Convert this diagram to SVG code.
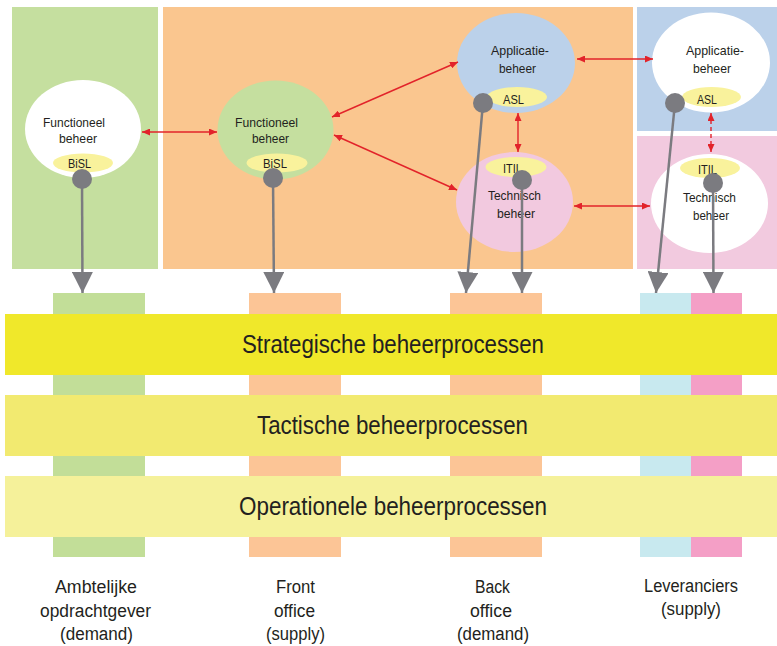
<svg xmlns="http://www.w3.org/2000/svg" width="777" height="646" viewBox="0 0 777 646">
<defs>
<style>
text{font-family:"Liberation Sans",Arial,sans-serif;fill:#231f20;text-anchor:middle}
.n{font-size:13.5px}
.s{font-size:13.5px}
.b{font-size:25px}
.l{font-size:18px}
.red{stroke:#e2232a;stroke-width:1.4;fill:none;marker-start:url(#ra);marker-end:url(#ra)}
.gl{stroke:#7b7b80;stroke-width:2.5;fill:none;marker-end:url(#ga)}
.gc{fill:#7b7b80}
.y{fill:#f9f29c}
</style>
<marker id="ra" viewBox="0 0 8 7" refX="8" refY="3.5" markerWidth="8" markerHeight="7" markerUnits="userSpaceOnUse" orient="auto-start-reverse"><path d="M0,0L8,3.5L0,7z" fill="#e2232a"/></marker>
<marker id="ga" viewBox="0 0 21 21" refX="21" refY="10.5" markerWidth="21" markerHeight="21" markerUnits="userSpaceOnUse" orient="auto"><path d="M0,0L21,10.5L0,21z" fill="#7b7b80"/></marker>
</defs>
<rect width="777" height="646" fill="#fff"/>
<g id="panels">
<rect x="12" y="7" width="146" height="262" fill="#c5df9f"/>
<rect x="163" y="7" width="470" height="262" fill="#fac68f"/>
<rect x="637" y="7" width="140" height="124" fill="#bbd1ea"/>
<rect x="637" y="136" width="140" height="133" fill="#f2cadf"/>
</g>
<g id="columns">
<rect x="53" y="293" width="92" height="264" fill="#c2de98"/>
<rect x="249" y="293" width="92" height="264" fill="#fcc596"/>
<rect x="450" y="293" width="92" height="264" fill="#fcc596"/>
<rect x="640" y="293" width="51" height="264" fill="#c8e9ef"/>
<rect x="691" y="293" width="51" height="264" fill="#f49fc6"/>
</g>
<g id="band-strategisch">
<rect x="5" y="314" width="772" height="61" fill="#f0e82a"/>
<text class="b" x="393" y="353" textLength="302" lengthAdjust="spacingAndGlyphs">Strategische beheerprocessen</text>
</g>
<g id="band-tactisch">
<rect x="5" y="395" width="772" height="61" fill="#f2ea70"/>
<text class="b" x="392.5" y="434" textLength="271" lengthAdjust="spacingAndGlyphs">Tactische beheerprocessen</text>
</g>
<g id="band-operationeel">
<rect x="5" y="476" width="772" height="61" fill="#f5f19a"/>
<text class="b" x="393" y="515" textLength="308" lengthAdjust="spacingAndGlyphs">Operationele beheerprocessen</text>
</g>
<g id="node-fb-demand">
<ellipse cx="83" cy="129" rx="58" ry="49" fill="#fff"/>
<ellipse class="y" cx="83" cy="163" rx="30" ry="9.5"/>
<text class="n" x="74" y="127" textLength="62" lengthAdjust="spacingAndGlyphs">Functioneel</text>
<text class="n" x="78" y="143" textLength="38" lengthAdjust="spacingAndGlyphs">beheer</text>
<text class="s" x="79.5" y="168" textLength="23" lengthAdjust="spacingAndGlyphs">BiSL</text>
</g>
<g id="node-fb-supply">
<ellipse cx="275.5" cy="130" rx="58" ry="49.5" fill="#c5df9f"/>
<ellipse class="y" cx="277" cy="163" rx="30.5" ry="9.5"/>
<text class="n" x="266.5" y="127" textLength="63" lengthAdjust="spacingAndGlyphs">Functioneel</text>
<text class="n" x="270.5" y="143" textLength="37" lengthAdjust="spacingAndGlyphs">beheer</text>
<text class="s" x="275" y="168" textLength="24" lengthAdjust="spacingAndGlyphs">BiSL</text>
</g>
<g id="node-ab-backoffice">
<ellipse cx="516" cy="63" rx="59" ry="50" fill="#bbd1ea"/>
<ellipse class="y" cx="517" cy="97" rx="30" ry="10"/>
<text class="n" x="520" y="55" textLength="58" lengthAdjust="spacingAndGlyphs">Applicatie-</text>
<text class="n" x="517.5" y="73" textLength="37" lengthAdjust="spacingAndGlyphs">beheer</text>
<text class="s" x="513.5" y="104" textLength="21" lengthAdjust="spacingAndGlyphs">ASL</text>
</g>
<g id="node-tb-backoffice">
<ellipse cx="514.5" cy="202" rx="58.5" ry="50" fill="#f2c9df"/>
<ellipse class="y" cx="516" cy="167" rx="30.5" ry="10"/>
<text class="s" x="512.5" y="173" textLength="19" lengthAdjust="spacingAndGlyphs">ITIL</text>
<text class="n" x="514.5" y="200" textLength="53" lengthAdjust="spacingAndGlyphs">Technisch</text>
<text class="n" x="516" y="218" textLength="38" lengthAdjust="spacingAndGlyphs">beheer</text>
</g>
<g id="node-ab-leverancier">
<ellipse cx="711" cy="62.5" rx="59" ry="50" fill="#fff"/>
<ellipse class="y" cx="711.5" cy="97" rx="29.5" ry="10"/>
<text class="n" x="715" y="55" textLength="58" lengthAdjust="spacingAndGlyphs">Applicatie-</text>
<text class="n" x="712" y="73" textLength="38" lengthAdjust="spacingAndGlyphs">beheer</text>
<text class="s" x="707" y="104" textLength="20" lengthAdjust="spacingAndGlyphs">ASL</text>
</g>
<g id="node-tb-leverancier">
<ellipse cx="709.5" cy="203.5" rx="58.5" ry="49.5" fill="#fff"/>
<ellipse class="y" cx="710" cy="168" rx="30" ry="10"/>
<text class="s" x="707.5" y="174" textLength="19" lengthAdjust="spacingAndGlyphs">ITIL</text>
<text class="n" x="709.5" y="202" textLength="53" lengthAdjust="spacingAndGlyphs">Technisch</text>
<text class="n" x="711" y="220" textLength="36" lengthAdjust="spacingAndGlyphs">beheer</text>
</g>
<g id="connectors">
<line class="red" x1="142" y1="132" x2="217" y2="132"/>
<line class="red" x1="332" y1="117" x2="458" y2="62"/>
<line class="red" x1="334" y1="135" x2="457" y2="190"/>
<line class="red" x1="577" y1="59" x2="653" y2="59"/>
<line class="red" x1="518" y1="113" x2="518" y2="152"/>
<line class="red" x1="711" y1="113" x2="711" y2="152" stroke-dasharray="4,3"/>
<line class="red" x1="574" y1="206" x2="650" y2="206"/>
<line class="gl" x1="82" y1="179" x2="82.5" y2="293"/>
<line class="gl" x1="273" y1="178" x2="274" y2="293"/>
<line class="gl" x1="483" y1="103" x2="466" y2="293"/>
<line class="gl" x1="522" y1="180" x2="522" y2="293"/>
<line class="gl" x1="675" y1="103" x2="656" y2="293"/>
<line class="gl" x1="713" y1="183" x2="713.5" y2="293"/>
<circle class="gc" cx="82" cy="179" r="10"/>
<circle class="gc" cx="273" cy="178" r="10"/>
<circle class="gc" cx="483" cy="103" r="10"/>
<circle class="gc" cx="522" cy="180" r="10"/>
<circle class="gc" cx="675" cy="103" r="10"/>
<circle class="gc" cx="713" cy="183" r="10"/>
</g>
<g id="label-ambtelijk">
<text class="l" x="96" y="593" textLength="82" lengthAdjust="spacingAndGlyphs">Ambtelijke</text>
<text class="l" x="95.5" y="617" textLength="111" lengthAdjust="spacingAndGlyphs">opdrachtgever</text>
<text class="l" x="96.5" y="640" textLength="73" lengthAdjust="spacingAndGlyphs">(demand)</text>
</g>
<g id="label-front">
<text class="l" x="295.5" y="593" textLength="39" lengthAdjust="spacingAndGlyphs">Front</text>
<text class="l" x="294.5" y="617" textLength="41" lengthAdjust="spacingAndGlyphs">office</text>
<text class="l" x="295.5" y="640" textLength="59" lengthAdjust="spacingAndGlyphs">(supply)</text>
</g>
<g id="label-back">
<text class="l" x="492.5" y="593" textLength="35" lengthAdjust="spacingAndGlyphs">Back</text>
<text class="l" x="491" y="617" textLength="42" lengthAdjust="spacingAndGlyphs">office</text>
<text class="l" x="493" y="640" textLength="72" lengthAdjust="spacingAndGlyphs">(demand)</text>
</g>
<g id="label-leveranciers">
<text class="l" x="691" y="592" textLength="94" lengthAdjust="spacingAndGlyphs">Leveranciers</text>
<text class="l" x="691" y="615" textLength="60" lengthAdjust="spacingAndGlyphs">(supply)</text>
</g>
</svg>
